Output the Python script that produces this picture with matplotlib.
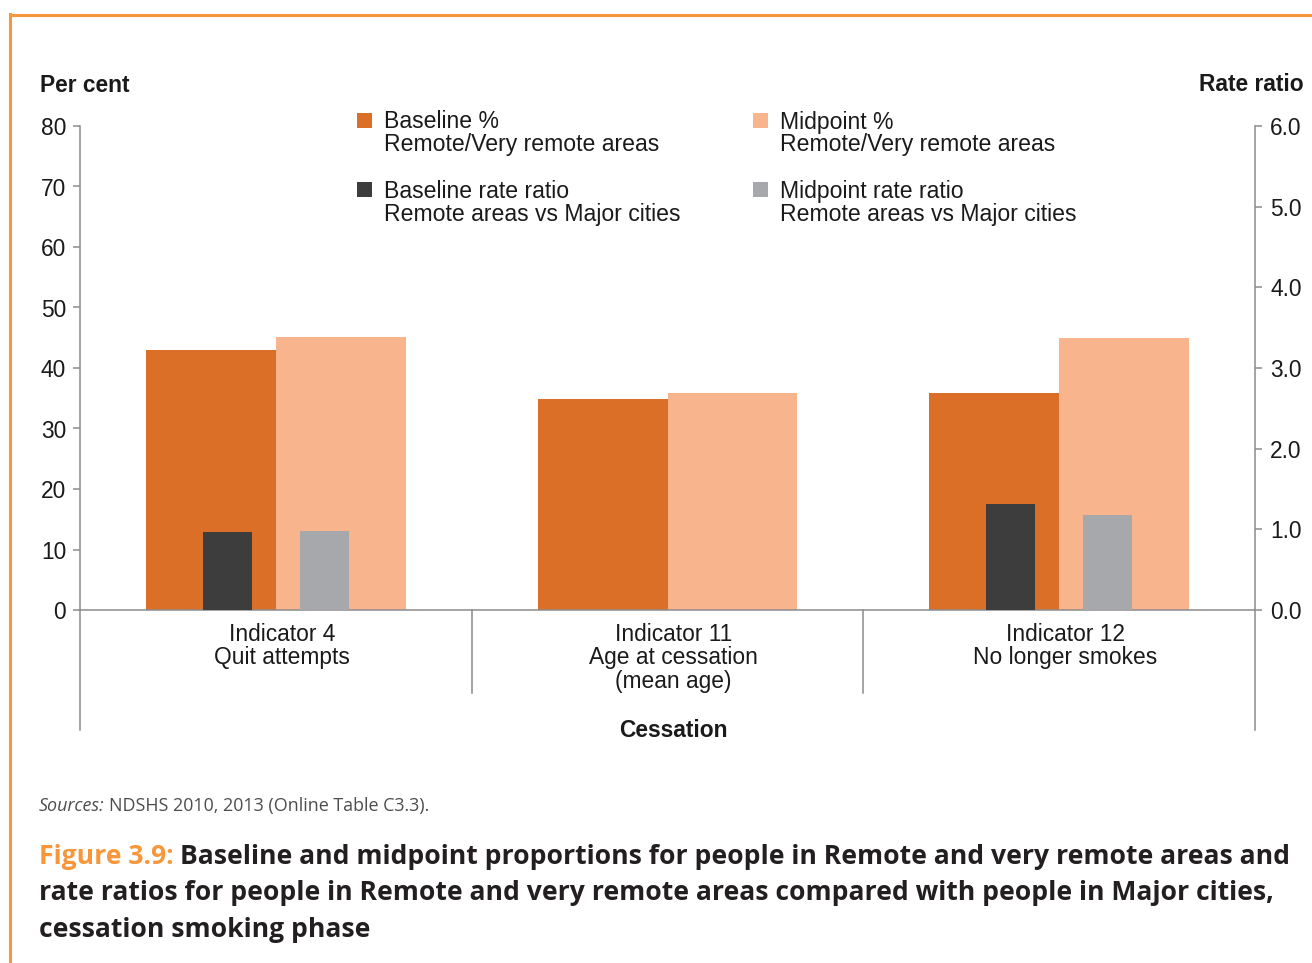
import matplotlib
matplotlib.use("Agg")
import matplotlib.pyplot as plt
import matplotlib.transforms as mtransforms
from matplotlib.patches import Rectangle
from matplotlib.lines import Line2D
import numpy as np

# ---------------- data ----------------
categories = ["Indicator 4\nQuit attempts",
              "Indicator 11\nAge at cessation\n(mean age)",
              "Indicator 12\nNo longer smokes"]
baseline_pct = [43.0, 34.9, 35.9]
midpoint_pct = [45.1, 35.9, 45.0]
baseline_rr = [0.97, np.nan, 1.31]
midpoint_rr = [0.98, np.nan, 1.18]
left_ticks = [0, 10, 20, 30, 40, 50, 60, 70, 80]
right_ticks = [0.0, 1.0, 2.0, 3.0, 4.0, 5.0, 6.0]
legend_labels = [("Baseline %", "Remote/Very remote areas"),
                 ("Midpoint %", "Remote/Very remote areas"),
                 ("Baseline rate ratio", "Remote areas vs Major cities"),
                 ("Midpoint rate ratio", "Remote areas vs Major cities")]

C_BASE = "#DB6F27"
C_MID = "#F8B48D"
C_BRR = "#3D3D3D"
C_MRR = "#A7A8AB"
C_AX = "#8C8C8C"
C_ORANGE = "#F7963A"
C_TXT = "#1A1A1A"

W, H = 1312, 963
fig = plt.figure(figsize=(W / 100, H / 100), dpi=100)
fig.patch.set_facecolor("white")

def fx(x):
    return x / W

def fy(y):
    return 1 - y / H

AXFONT = ["Liberation Sans", "DejaVu Sans"]
CAPFONT = ["Open Sans", "DejaVu Sans"]
FS = 16.4
LFS = 16.6

# axes
x0, x1, ytop, ybot = 80, 1255, 126, 610
ax = fig.add_axes([fx(x0), fy(ybot), (x1 - x0) / W, (ybot - ytop) / H])
ax2 = ax.twinx()

n = len(categories)
xs = np.arange(n)
bw = 130 / ((x1 - x0) / 3)
rw = 49 / ((x1 - x0) / 3)
roff = 48.5 / ((x1 - x0) / 3)

ax.bar(xs - bw / 2, baseline_pct, width=bw, color=C_BASE, zorder=2)
ax.bar(xs + bw / 2, midpoint_pct, width=bw, color=C_MID, zorder=2)
ax2.bar(xs - roff, baseline_rr, width=rw, color=C_BRR, zorder=3)
ax2.bar(xs + roff, midpoint_rr, width=rw, color=C_MRR, zorder=3)

ax.set_xlim(-0.5, n - 0.5)
ax.set_ylim(0, 80)
ax2.set_ylim(0, 6)
ax.set_yticks(left_ticks)
ax.set_yticklabels([str(t) for t in left_ticks])
ax2.set_yticks(right_ticks)
ax2.set_yticklabels([f"{t:.1f}" for t in right_ticks])
ax.set_xticks([])
ax2.set_xticks([])

for a in (ax, ax2):
    a.set_facecolor("none")
    a.spines["top"].set_visible(False)
    for s in ("left", "right", "bottom"):
        a.spines[s].set_color(C_AX)
        a.spines[s].set_linewidth(1.1)
ax.spines["right"].set_visible(False)
ax2.spines["left"].set_visible(False)
ax2.spines["bottom"].set_visible(False)

ax.tick_params(axis="y", direction="out", length=5, width=1.1, color=C_AX,
               pad=5, labelsize=FS, labelcolor=C_TXT)
ax2.tick_params(axis="y", direction="out", length=5, width=1.1, color=C_AX,
                pad=6, labelsize=FS, labelcolor=C_TXT)
for lab in ax.get_yticklabels() + ax2.get_yticklabels():
    lab.set_fontfamily(AXFONT)

# extensions below the axis: separators and outer spines
trans_sep = mtransforms.blended_transform_factory(ax.transData, fig.transFigure)
for xv in (0.5, 1.5):
    ax.add_line(Line2D([xv, xv], [fy(610), fy(693)], transform=trans_sep,
                       color=C_AX, lw=1.1, clip_on=False))
for xv in (-0.5, n - 0.5):
    ax.add_line(Line2D([xv, xv], [fy(610), fy(730)], transform=trans_sep,
                       color=C_AX, lw=1.1, clip_on=False))

# category labels
lab_trans = trans_sep + mtransforms.ScaledTranslation(6 / 100, 0, fig.dpi_scale_trans)
for i, c in enumerate(categories):
    ax.text(i, fy(623), c, transform=lab_trans, ha="center", va="top",
            fontsize=FS, family=AXFONT, color=C_TXT, linespacing=1.02,
            multialignment="center")

# axis titles
fig.text(fx(40), fy(92), "Per cent", ha="left", va="baseline", fontsize=FS,
         fontweight="bold", family=AXFONT, color=C_TXT)
fig.text(fx(1304), fy(91), "Rate ratio", ha="right", va="baseline", fontsize=FS,
         fontweight="bold", family=AXFONT, color=C_TXT)
fig.text(fx(673), fy(737), "Cessation", ha="center", va="baseline", fontsize=FS,
         fontweight="bold", family=AXFONT, color=C_TXT)

# legend (manual)
leg_colors = [C_BASE, C_MID, C_BRR, C_MRR]
leg_pos = [(357, 113), (753, 113), (357, 182), (753, 182)]
for (lx, ly), col, (l1, l2) in zip(leg_pos, leg_colors, legend_labels):
    fig.patches.append(Rectangle((fx(lx), fy(ly + 15)), 15 / W, 15 / H,
                                 transform=fig.transFigure, color=col, lw=0))
    fig.text(fx(lx + 27), fy(ly + 15.5), l1, ha="left", va="baseline",
             fontsize=LFS, family=AXFONT, color=C_TXT)
    fig.text(fx(lx + 27), fy(ly + 38.5), l2, ha="left", va="baseline",
             fontsize=LFS, family=AXFONT, color=C_TXT)

# orange frame
fig.add_artist(Line2D([fx(10), fx(1312)], [fy(15), fy(15)], transform=fig.transFigure,
                      color=C_ORANGE, lw=2.2))
fig.add_artist(Line2D([fx(10), fx(10)], [fy(14), fy(963)], transform=fig.transFigure,
                      color=C_ORANGE, lw=2.2))

# sources
SFS = 12.9
t_src1 = fig.text(fx(39), fy(811), "Sources:", ha="left", va="baseline", fontsize=SFS,
                  style="italic", family=CAPFONT, color="#4D4D4D")
fig.canvas.draw()
r = fig.canvas.get_renderer()
bb = t_src1.get_window_extent(r)
fig.text(bb.x1 / W + 4 / W, fy(811), "NDSHS 2010, 2013 (Online Table C3.3).",
         ha="left", va="baseline", fontsize=SFS, family=CAPFONT, color="#4D4D4D")

# caption
cap_fs = 19.1
t_fig = fig.text(fx(39), fy(864), "Figure 3.9:", ha="left", va="baseline",
                 fontsize=cap_fs, fontweight="bold", family=CAPFONT, color=C_ORANGE)
fig.canvas.draw()
bb = t_fig.get_window_extent(r)
fig.text(bb.x1 / W + 6 / W, fy(864),
         "Baseline and midpoint proportions for people in Remote and very remote areas and",
         ha="left", va="baseline", fontsize=cap_fs, fontweight="bold",
         family=CAPFONT, color="#231F20")
fig.text(fx(39), fy(900),
         "rate ratios for people in Remote and very remote areas compared with people in Major cities,",
         ha="left", va="baseline", fontsize=cap_fs, fontweight="bold",
         family=CAPFONT, color="#231F20")
fig.text(fx(39), fy(937), "cessation smoking phase",
         ha="left", va="baseline", fontsize=cap_fs, fontweight="bold",
         family=CAPFONT, color="#231F20")

fig.savefig("out.png", dpi=100, facecolor="white")
